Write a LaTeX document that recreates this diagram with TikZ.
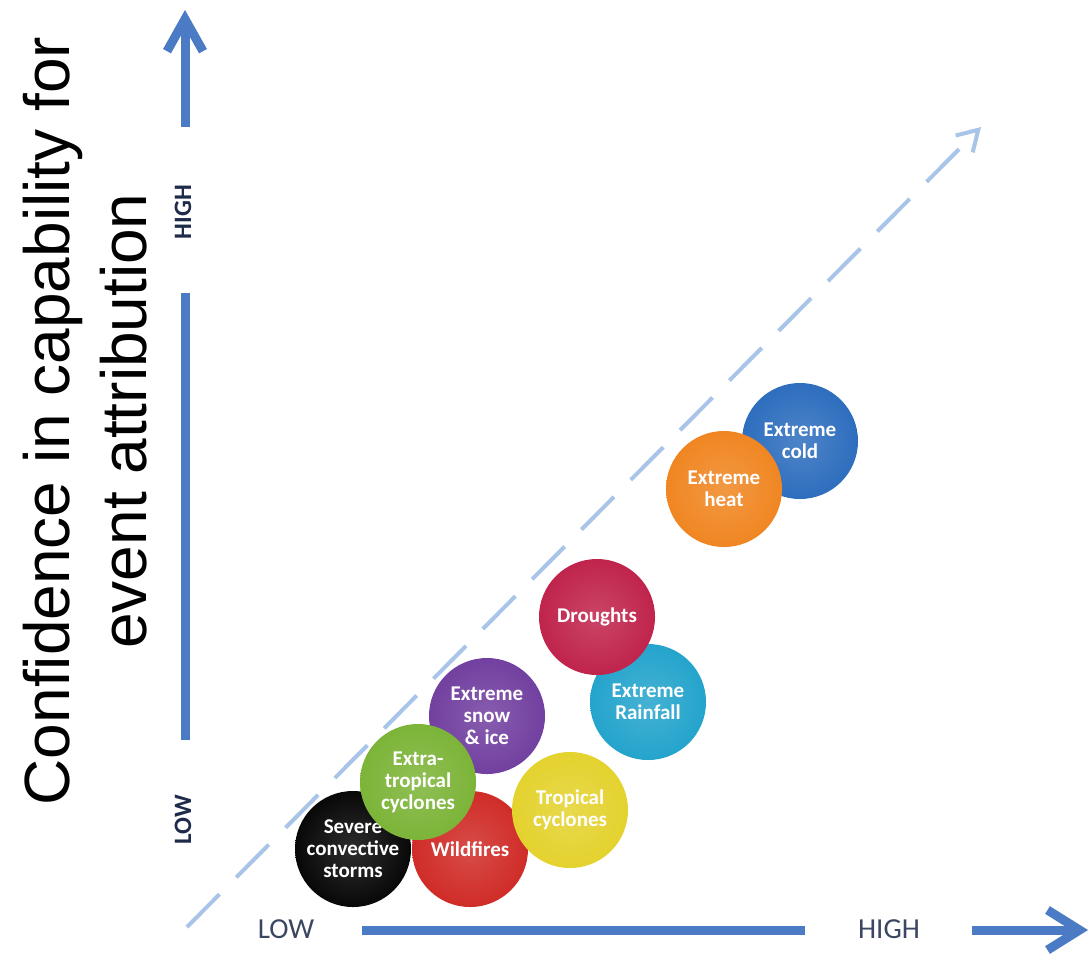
\documentclass[tikz,border=0pt]{standalone}
\usepackage{fontspec}
\setmainfont{Carlito}
\newfontfamily\arialfont{Liberation Sans}
\usetikzlibrary{arrows.meta}

\definecolor{axisblue}{RGB}{74,123,196}
\definecolor{dashblue}{RGB}{168,196,232}
\definecolor{labelgray}{RGB}{58,70,98}
\definecolor{labelnavy}{RGB}{30,42,74}
\definecolor{stormblack}{RGB}{8,8,8}
\definecolor{firered}{RGB}{208,44,40}
\definecolor{extragreen}{RGB}{124,180,56}
\definecolor{snowpurple}{RGB}{114,64,160}
\definecolor{tropyellow}{RGB}{228,210,46}
\definecolor{raincyan}{RGB}{36,164,204}
\definecolor{droughtred}{RGB}{192,36,76}
\definecolor{heatorange}{RGB}{240,134,34}
\definecolor{coldblue}{RGB}{46,110,190}

\begin{document}
\begin{tikzpicture}[x=0.5pt, y=-0.5pt,
    axis/.style = {draw=axisblue, line width=4.5pt},
    diag/.style = {draw=dashblue, line width=2pt, dash pattern=on 23pt off 12pt},
    xlabel/.style = {text=labelgray, inner sep=0pt, anchor=base, font=\fontsize{14.5}{16}\selectfont},
    ylabel/.style = {text=labelnavy, inner sep=0pt, rotate=90, font=\bfseries\fontsize{12.5}{14}\selectfont},
    bubble/.style = {circle, minimum size=58pt, inner sep=0pt, text=white, align=center,
        font=\bfseries\fontsize{10.5}{11}\selectfont, inner color=#1!85!white, outer color=#1}]
    \useasboundingbox (0,0) rectangle (1090,954);

    % title
    \node[rotate=90, align=center, inner sep=0pt, font=\arialfont\fontsize{32}{38.5}\selectfont]
        (title) at (85,421) {Confidence in capability for\\event attribution};

    % vertical axis
    \coordinate (ytip) at (185,10);
    \coordinate (ytail) at (185,127);
    \coordinate (ytop) at (185,293);
    \coordinate (ybot) at (185,740);
    \node[ylabel] (yhigh) at (183,212) {HIGH};
    \node[ylabel] (ylow) at (183,820) {LOW};
    \draw[axis, -{Straight Barb[length=16pt, width=18pt]}] (ytail) -- (ytip);
    \draw[axis] (ytop) -- (ybot);

    % horizontal axis
    \coordinate (xleft) at (362,930);
    \coordinate (xright) at (805,930);
    \coordinate (xtail) at (972,930);
    \coordinate (xtip) at (1088,930);
    \node[xlabel] (xlow) at (286,938) {LOW};
    \node[xlabel] (xhigh) at (889,938) {HIGH};
    \draw[axis] (xleft) -- (xright);
    \draw[axis, -{Straight Barb[length=16pt, width=20pt]}] (xtail) -- (xtip);

    % diagonal
    \coordinate (dstart) at (187,927);
    \coordinate (dend) at (981,127);
    \draw[diag, -{Straight Barb[length=10pt, width=12pt]}] (dstart) -- (dend);

    % event bubbles
    \node[bubble=stormblack] (storms) at (353,849) {Severe\\convective\\storms};
    \node[bubble=firered] (wildfires) at (470,849) {Wildfires};
    \node[bubble=snowpurple] (snow) at (487,716) {Extreme\\snow\\\& ice};
    \node[bubble=extragreen] (extratrop) at (418,782) {Extra-\\tropical\\cyclones};
    \node[bubble=tropyellow] (tropical) at (570,810) {Tropical\\cyclones};
    \node[bubble=raincyan] (rainfall) at (648,702) {Extreme\\Rainfall};
    \node[bubble=droughtred] (droughts) at (597,617) {Droughts};
    \node[bubble=coldblue] (cold) at (800,441) {Extreme\\cold};
    \node[bubble=heatorange] (heat) at (724,489) {Extreme\\heat};
\end{tikzpicture}
\end{document}
